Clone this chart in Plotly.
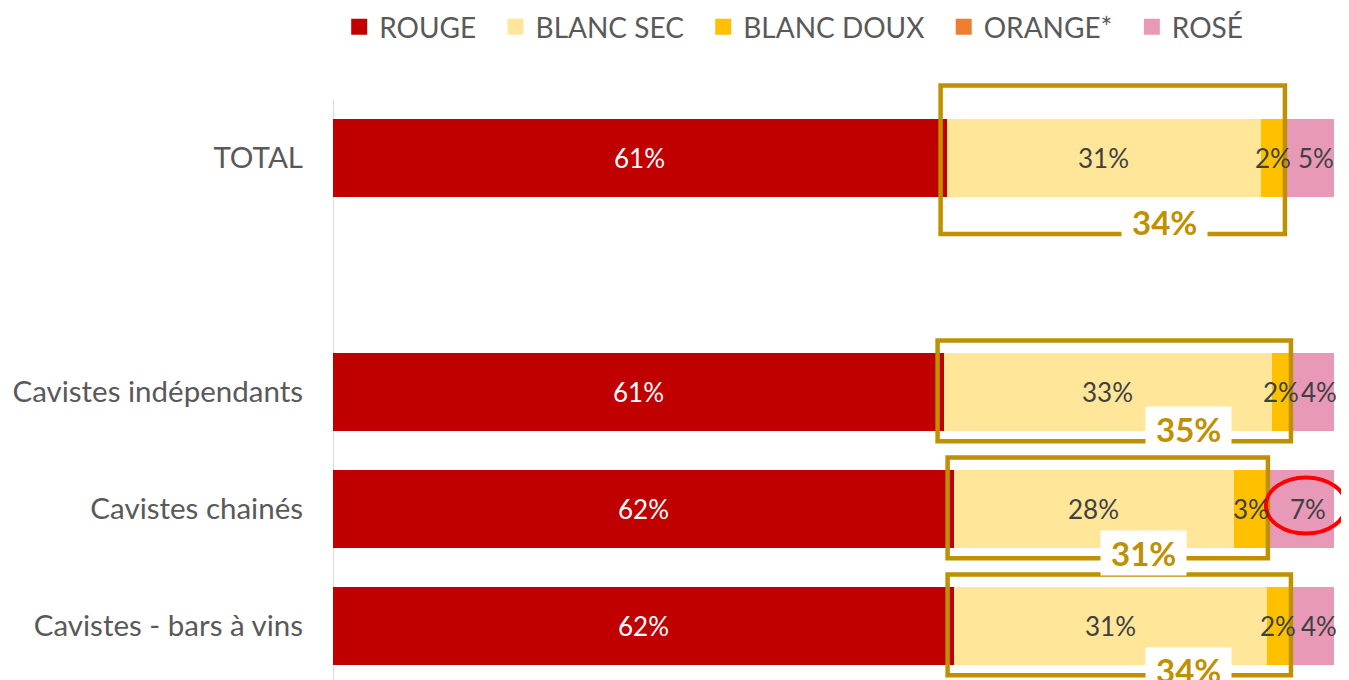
import plotly.graph_objects as go

categories = ["TOTAL", " ", "Cavistes indépendants", "Cavistes chainés", "Cavistes - bars à vins"]
rows = ["TOTAL", "Cavistes indépendants", "Cavistes chainés", "Cavistes - bars à vins"]

rouge = [61.3, 61.0, 62.0, 62.0]
blanc_sec = [31.4, 32.8, 28.0, 31.3]
blanc_doux = [2.4, 1.9, 3.4, 2.2]
orange = [0.0, 0.0, 0.0, 0.2]
rose = [4.9, 4.3, 6.6, 4.3]

blanc_total_labels = ["34%", "35%", "31%", "34%"]
highlight_row = "Cavistes chainés"

series = [
    ("ROUGE", rouge, "#C00000", "white"),
    ("BLANC SEC", blanc_sec, "#FFE699", "#404040"),
    ("BLANC DOUX", blanc_doux, "#FFC000", "#404040"),
    ("ORANGE*", orange, "#ED7D31", "#404040"),
    ("ROSÉ", rose, "#E899B8", "#404040"),
]

FONT = "Lato"
GOLD = "#BF9000"
PAD = "\u00a0" * 2
# styling offsets (pixels) for the total-blanc labels
label_xshift = [0, 18, -4, 18]
label_yshift = [12, 12, 5, 5]

fig = go.Figure()
for name, vals, color, tcolor in series:
    fig.add_trace(go.Bar(
        y=rows, x=vals, name=name, orientation="h", legendgroup=name,
        showlegend=False,
        marker=dict(color=color, line=dict(width=0)),
        hoverinfo="x+name",
    ))
# legend entries with larger square symbols
for name, vals, color, tcolor in series:
    fig.add_trace(go.Scatter(
        x=[None], y=[None], mode="markers", name=name + PAD, legendgroup=name,
        marker=dict(symbol="square", size=16, color=color),
        showlegend=True, hoverinfo="skip",
    ))

annotations = []
shapes = []
cum = [0.0] * len(rows)
for name, vals, color, tcolor in series:
    for i, v in enumerate(vals):
        if v >= 1:
            annotations.append(dict(
                x=cum[i] + v / 2, y=rows[i], xref="x", yref="y",
                text=f"{round(v):.0f}%", showarrow=False,
                xshift=7 if name == "ROSÉ" else 0,
                font=dict(family=FONT, size=26, color=tcolor),
            ))
        cum[i] += v

# gold boxes around white wines
for i, r in enumerate(rows):
    idx = categories.index(r)
    x0 = rouge[i] - 0.6
    x1 = rouge[i] + blanc_sec[i] + blanc_doux[i] + orange[i]
    if r == "TOTAL":
        up, down = 0.62, 0.65
    else:
        up, down = 0.44, 0.42
    shapes.append(dict(type="rect", xref="x", yref="y", x0=x0, x1=x1,
                       y0=idx - up, y1=idx + down,
                       line=dict(color=GOLD, width=4.5), fillcolor="rgba(0,0,0,0)", layer="above"))
    annotations.append(dict(
        x=x1 - 12, y=idx + down, xref="x", yref="y",
        text="&nbsp;" + blanc_total_labels[i] + "&nbsp;", showarrow=False,
        bgcolor="white", borderpad=2,
        xshift=label_xshift[i], yshift=label_yshift[i],
        font=dict(family=FONT, size=33, color=GOLD, weight="bold"),
    ))

# red ellipse highlight
hi = rows.index(highlight_row)
hidx = categories.index(highlight_row)
start = rouge[hi] + blanc_sec[hi] + blanc_doux[hi] + orange[hi]
shapes.append(dict(type="circle", xref="x", yref="y",
                   x0=start - 0.2, x1=start + rose[hi] + 1.2,
                   y0=hidx - 0.27, y1=hidx + 0.21,
                   line=dict(color="#FF0000", width=4), layer="above"))

# vertical axis line
shapes.append(dict(type="line", xref="x", yref="y", x0=0, x1=0, y0=-0.5, y1=4.6,
                   line=dict(color="#D9D9D9", width=2), layer="below"))

fig.update_layout(
    barmode="stack",
    bargap=0.333,
    width=1349, height=680,
    margin=dict(l=325, r=0, t=52, b=0, autoexpand=False),
    paper_bgcolor="white", plot_bgcolor="white",
    font=dict(family=FONT, color="#595959"),
    shapes=shapes,
    annotations=annotations,
    legend=dict(
        orientation="h", xref="container", yref="container",
        x=0.588, xanchor="center", y=1 - 19 / 680, yanchor="middle",
        font=dict(family=FONT, size=28, color="#595959"),
        traceorder="normal", itemwidth=30,
    ),
    xaxis=dict(range=[0, 102.3], visible=False, fixedrange=True),
    yaxis=dict(
        type="category", categoryorder="array", categoryarray=categories,
        range=[4.53, -0.838], showgrid=False, showline=False, zeroline=False,
        ticks="", ticklabelstandoff=29,
        tickfont=dict(family=FONT, size=29.5, color="#595959"),
    ),
)

fig.write_html("out.html")
